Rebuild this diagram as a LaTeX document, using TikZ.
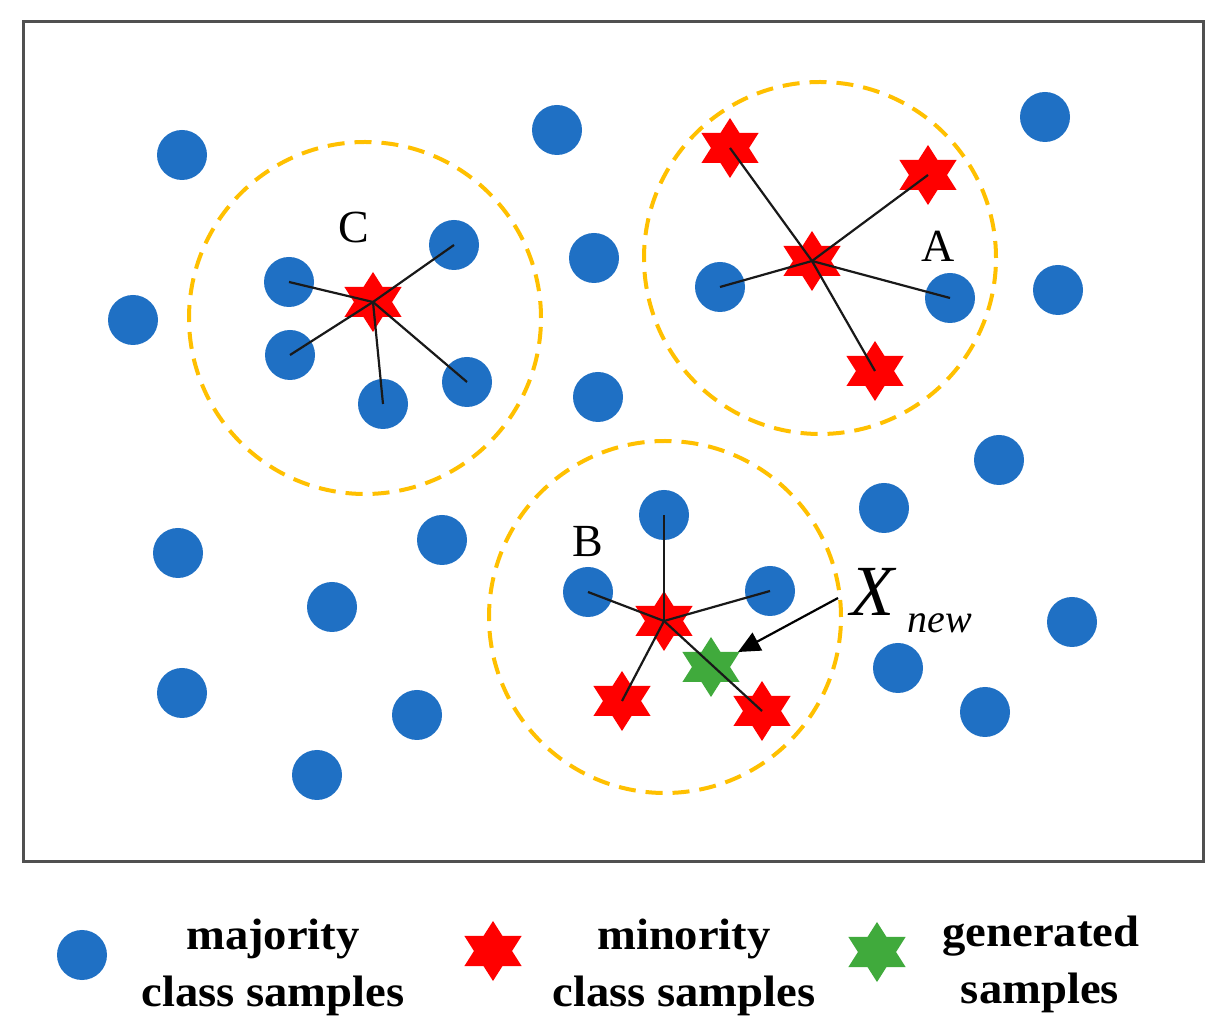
\documentclass[tikz,border=0pt]{standalone}
\usepackage{fontspec}
\setmainfont{Liberation Serif}
\usetikzlibrary{shapes.geometric,arrows.meta}
\definecolor{majblue}{RGB}{31,112,196}
\definecolor{minred}{RGB}{255,0,0}
\definecolor{gengreen}{RGB}{64,170,60}
\definecolor{haloorange}{RGB}{255,192,0}
\definecolor{framegray}{RGB}{80,80,80}
\begin{document}
\begin{tikzpicture}[x=0.5pt,y=-0.5pt,
  maj/.style={circle,fill=majblue,minimum size=25pt,inner sep=0pt},
  minr/.style={star,star points=6,star point ratio=1.732,fill=minred,minimum size=30pt,inner sep=0pt,xscale=1.1},
  gen/.style={minr,fill=gengreen},
  halo/.style={circle,draw=haloorange,line width=2pt,dash pattern=on 8.5pt off 5pt,minimum size=176pt,inner sep=0pt},
  link/.style={line width=1.1pt,black!90},
  lbl/.style={font=\fontsize{23}{23}\selectfont,anchor=base,inner sep=0pt},
  leg/.style={font=\fontsize{22}{22}\selectfont\bfseries,anchor=base,inner sep=0pt,xscale=1.06}]
\useasboundingbox (0,0) rectangle (1232,1036);
\fill[white] (0,0) rectangle (1232,1036);
\draw[framegray,line width=1.5pt] (23,22) rectangle (1203,862);
% dashed neighbourhoods
\node[halo] (haloC) at (365,318) {};
\node[halo] (haloA) at (820,258) {};
\node[halo] (haloB) at (665,617) {};
% majority samples
\node[maj] (m1) at (182,155) {};
\node[maj] (m2) at (557,130) {};
\node[maj] (m3) at (1045,117) {};
\node[maj] (m4) at (133,320) {};
\node[maj] (c1) at (289,282) {};
\node[maj] (c2) at (454,245) {};
\node[maj] (c3) at (290,355) {};
\node[maj] (c4) at (467,382) {};
\node[maj] (c5) at (383,404) {};
\node[maj] (m5) at (594,258) {};
\node[maj] (m6) at (598,397) {};
\node[maj] (ac1) at (720,287) {};
\node[maj] (ac2) at (950,298) {};
\node[maj] (m7) at (1058,290) {};
\node[maj] (m8) at (999,460) {};
\node[maj] (m9) at (884,508) {};
\node[maj] (m10) at (178,553) {};
\node[maj] (m11) at (442,540) {};
\node[maj] (m12) at (332,607) {};
\node[maj] (bc1) at (664,515) {};
\node[maj] (bc2) at (588,592) {};
\node[maj] (bc3) at (770,591) {};
\node[maj] (m13) at (1072,622) {};
\node[maj] (m14) at (898,668) {};
\node[maj] (m15) at (182,693) {};
\node[maj] (m16) at (417,715) {};
\node[maj] (m17) at (985,712) {};
\node[maj] (m18) at (317,775) {};
% minority samples
\node[minr] (sC) at (373,302) {};
\node[minr] (sA) at (812,261) {};
\node[minr] (a1) at (730,148) {};
\node[minr] (a2) at (928,175) {};
\node[minr] (a3) at (875,371) {};
\node[minr] (sB) at (664,621) {};
\node[minr] (b1) at (622,701) {};
\node[minr] (b2) at (762,711) {};
% generated sample
\node[gen] (g) at (711,667) {};
% neighbour links
\draw[link] (sC.center) -- (c1.center);
\draw[link] (sC.center) -- (c2.center);
\draw[link] (sC.center) -- (c3.center);
\draw[link] (sC.center) -- (c4.center);
\draw[link] (sC.center) -- (c5.center);
\draw[link] (sA.center) -- (a1.center);
\draw[link] (sA.center) -- (a2.center);
\draw[link] (sA.center) -- (a3.center);
\draw[link] (sA.center) -- (ac1.center);
\draw[link] (sA.center) -- (ac2.center);
\draw[link] (sB.center) -- (bc1.center);
\draw[link] (sB.center) -- (bc2.center);
\draw[link] (sB.center) -- (bc3.center);
\draw[link] (sB.center) -- (b1.center);
\draw[link] (sB.center) -- (b2.center);
% labels
\node[lbl] (labC) at (354,243) {C};
\node[lbl] (labA) at (938,262) {A};
\node[lbl] (labB) at (588,557) {B};
\node[anchor=base west,inner sep=0pt,font=\fontsize{36}{36}\selectfont\itshape] (xn) at (850,616) {X};
\node[anchor=base west,inner sep=0pt,font=\fontsize{20}{20}\selectfont\itshape] (xsub) at (907,633) {new};
\coordinate (arrS) at (838,598);
\coordinate (arrT) at (738,652);
\draw[line width=1.1pt,black,-{Triangle[length=11pt,width=10pt]}] (arrS) -- (arrT);
% legend
\node[maj] (legM) at (82,955) {};
\node[minr] (legR) at (493,951) {};
\node[gen] (legG) at (877,952) {};
\node[leg] (t1a) at (273,950) {majority};
\node[leg] (t1b) at (273,1006) {class samples};
\node[leg] (t2a) at (684,950) {minority};
\node[leg] (t2b) at (684,1006) {class samples};
\node[leg] (t3a) at (1041,947) {generated};
\node[leg] (t3b) at (1040,1003) {samples};
\end{tikzpicture}
\end{document}
